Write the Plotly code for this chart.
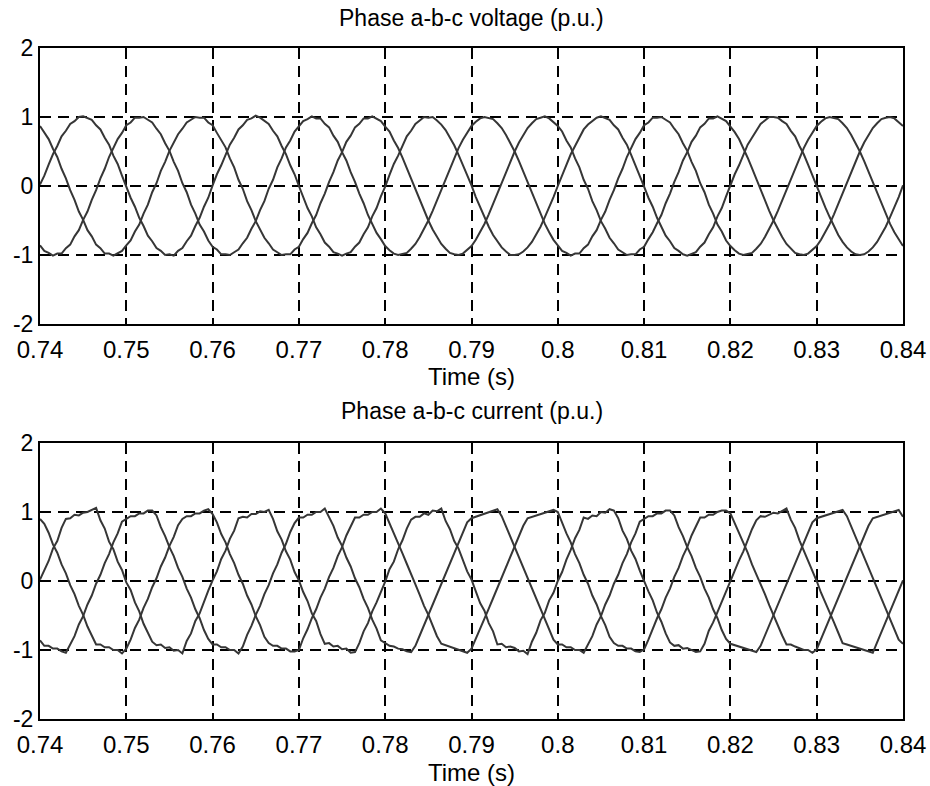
import plotly.graph_objects as go

# ---------------- data ----------------
time_s = [
    0.7400, 0.7405, 0.7410, 0.7415, 0.7420, 0.7425, 0.7430, 0.7435, 0.7440, 0.7445,
    0.7450, 0.7455, 0.7460, 0.7465, 0.7470, 0.7475, 0.7480, 0.7485, 0.7490, 0.7495,
    0.7500, 0.7505, 0.7510, 0.7515, 0.7520, 0.7525, 0.7530, 0.7535, 0.7540, 0.7545,
    0.7550, 0.7555, 0.7560, 0.7565, 0.7570, 0.7575, 0.7580, 0.7585, 0.7590, 0.7595,
    0.7600, 0.7605, 0.7610, 0.7615, 0.7620, 0.7625, 0.7630, 0.7635, 0.7640, 0.7645,
    0.7650, 0.7655, 0.7660, 0.7665, 0.7670, 0.7675, 0.7680, 0.7685, 0.7690, 0.7695,
    0.7700, 0.7705, 0.7710, 0.7715, 0.7720, 0.7725, 0.7730, 0.7735, 0.7740, 0.7745,
    0.7750, 0.7755, 0.7760, 0.7765, 0.7770, 0.7775, 0.7780, 0.7785, 0.7790, 0.7795,
    0.7800, 0.7805, 0.7810, 0.7815, 0.7820, 0.7825, 0.7830, 0.7835, 0.7840, 0.7845,
    0.7850, 0.7855, 0.7860, 0.7865, 0.7870, 0.7875, 0.7880, 0.7885, 0.7890, 0.7895,
    0.7900, 0.7905, 0.7910, 0.7915, 0.7920, 0.7925, 0.7930, 0.7935, 0.7940, 0.7945,
    0.7950, 0.7955, 0.7960, 0.7965, 0.7970, 0.7975, 0.7980, 0.7985, 0.7990, 0.7995,
    0.8000, 0.8005, 0.8010, 0.8015, 0.8020, 0.8025, 0.8030, 0.8035, 0.8040, 0.8045,
    0.8050, 0.8055, 0.8060, 0.8065, 0.8070, 0.8075, 0.8080, 0.8085, 0.8090, 0.8095,
    0.8100, 0.8105, 0.8110, 0.8115, 0.8120, 0.8125, 0.8130, 0.8135, 0.8140, 0.8145,
    0.8150, 0.8155, 0.8160, 0.8165, 0.8170, 0.8175, 0.8180, 0.8185, 0.8190, 0.8195,
    0.8200, 0.8205, 0.8210, 0.8215, 0.8220, 0.8225, 0.8230, 0.8235, 0.8240, 0.8245,
    0.8250, 0.8255, 0.8260, 0.8265, 0.8270, 0.8275, 0.8280, 0.8285, 0.8290, 0.8295,
    0.8300, 0.8305, 0.8310, 0.8315, 0.8320, 0.8325, 0.8330, 0.8335, 0.8340, 0.8345,
    0.8350, 0.8355, 0.8360, 0.8365, 0.8370, 0.8375, 0.8380, 0.8385, 0.8390, 0.8395,
    0.8400,
]

voltage_a = [
    0.02, 0.15, 0.31, 0.46, 0.58, 0.72, 0.80, 0.90, 0.94, 1.00, 1.01, 0.98, 0.96, 0.88, 0.82, 0.70, 0.60, 0.44, 0.32, 0.15,
    -0.01, -0.17, -0.30, -0.46, -0.58, -0.72, -0.80, -0.90, -0.94, -1.00, -0.99, -1.01, -0.94, -0.90, -0.80, -0.72, -0.58, -0.46, -0.30, -0.17,
    0.01, 0.17, 0.30, 0.45, 0.60, 0.70, 0.82, 0.88, 0.96, 0.98, 1.02, 0.99, 0.94, 0.90, 0.80, 0.72, 0.58, 0.46, 0.30, 0.17,
    0.00, -0.15, -0.32, -0.44, -0.60, -0.70, -0.82, -0.88, -0.96, -0.98, -1.01, -0.98, -0.96, -0.88, -0.82, -0.70, -0.60, -0.44, -0.32, -0.15,
    -0.01, 0.16, 0.32, 0.44, 0.59, 0.72, 0.80, 0.90, 0.95, 1.00, 0.99, 1.00, 0.95, 0.89, 0.81, 0.71, 0.59, 0.45, 0.31, 0.16,
    0.01, -0.16, -0.31, -0.45, -0.59, -0.71, -0.81, -0.89, -0.95, -1.00, -1.00, -0.99, -0.95, -0.89, -0.81, -0.71, -0.59, -0.45, -0.31, -0.16,
    0.00, 0.15, 0.31, 0.46, 0.58, 0.71, 0.82, 0.89, 0.94, 0.99, 1.01, 0.98, 0.96, 0.88, 0.82, 0.70, 0.60, 0.45, 0.30, 0.16,
    -0.01, -0.17, -0.30, -0.46, -0.58, -0.72, -0.80, -0.90, -0.94, -0.99, -1.01, -0.98, -0.96, -0.88, -0.82, -0.70, -0.60, -0.44, -0.32, -0.15,
    0.01, 0.17, 0.30, 0.45, 0.60, 0.70, 0.81, 0.90, 0.95, 1.00, 1.00, 0.99, 0.94, 0.90, 0.80, 0.72, 0.58, 0.46, 0.31, 0.15,
    0.00, -0.16, -0.31, -0.45, -0.59, -0.71, -0.81, -0.89, -0.95, -0.99, -1.00, -0.99, -0.95, -0.89, -0.81, -0.71, -0.59, -0.45, -0.31, -0.16,
    0.01,
]

voltage_b = [
    0.87, 0.78, 0.68, 0.54, 0.42, 0.25, 0.11, -0.06, -0.20, -0.37, -0.49, -0.64, -0.73, -0.85, -0.90, -0.98, -0.98, -1.01, -0.97, -0.94,
    -0.86, -0.79, -0.66, -0.56, -0.40, -0.27, -0.09, 0.04, 0.22, 0.35, 0.51, 0.62, 0.75, 0.83, 0.92, 0.96, 1.00, 0.99, 0.99, 0.92,
    0.88, 0.77, 0.67, 0.56, 0.40, 0.27, 0.09, -0.04, -0.22, -0.35, -0.51, -0.62, -0.75, -0.83, -0.92, -0.96, -1.00, -0.99, -0.99, -0.92,
    -0.88, -0.77, -0.68, -0.54, -0.42, -0.25, -0.11, 0.06, 0.20, 0.37, 0.49, 0.64, 0.73, 0.85, 0.90, 0.98, 0.98, 1.01, 0.97, 0.94,
    0.86, 0.79, 0.66, 0.55, 0.41, 0.26, 0.10, -0.05, -0.21, -0.36, -0.50, -0.63, -0.74, -0.84, -0.91, -0.97, -0.99, -1.00, -0.98, -0.93,
    -0.87, -0.78, -0.67, -0.55, -0.41, -0.26, -0.10, 0.05, 0.21, 0.36, 0.50, 0.63, 0.74, 0.84, 0.91, 0.97, 0.99, 1.01, 0.98, 0.93,
    0.87, 0.79, 0.66, 0.56, 0.40, 0.27, 0.09, -0.04, -0.22, -0.35, -0.51, -0.62, -0.75, -0.83, -0.92, -0.96, -1.00, -0.99, -0.99, -0.92,
    -0.88, -0.77, -0.67, -0.54, -0.42, -0.25, -0.11, 0.06, 0.20, 0.37, 0.49, 0.64, 0.73, 0.85, 0.90, 0.98, 0.98, 1.01, 0.97, 0.94,
    0.86, 0.78, 0.68, 0.55, 0.41, 0.26, 0.10, -0.05, -0.21, -0.36, -0.50, -0.63, -0.74, -0.84, -0.91, -0.97, -0.99, -1.00, -0.98, -0.93,
    -0.87, -0.78, -0.67, -0.55, -0.41, -0.26, -0.10, 0.05, 0.21, 0.36, 0.50, 0.63, 0.74, 0.84, 0.91, 0.97, 0.99, 1.00, 0.98, 0.93,
    0.87,
]

voltage_c = [
    -0.86, -0.94, -0.97, -1.01, -0.98, -0.98, -0.90, -0.85, -0.73, -0.64, -0.49, -0.37, -0.20, -0.06, 0.11, 0.25, 0.42, 0.54, 0.68, 0.77,
    0.88, 0.92, 0.99, 0.99, 1.00, 0.96, 0.92, 0.83, 0.75, 0.62, 0.51, 0.35, 0.22, 0.04, -0.09, -0.27, -0.40, -0.56, -0.66, -0.79,
    -0.88, -0.92, -0.99, -0.99, -1.00, -0.96, -0.92, -0.83, -0.75, -0.62, -0.51, -0.35, -0.22, -0.04, 0.09, 0.27, 0.40, 0.56, 0.66, 0.79,
    0.86, 0.94, 0.97, 1.01, 0.98, 0.98, 0.90, 0.85, 0.73, 0.64, 0.49, 0.37, 0.20, 0.06, -0.11, -0.25, -0.42, -0.54, -0.68, -0.77,
    -0.87, -0.93, -0.98, -1.00, -0.99, -0.97, -0.91, -0.84, -0.74, -0.63, -0.50, -0.36, -0.21, -0.05, 0.10, 0.26, 0.41, 0.55, 0.67, 0.78,
    0.87, 0.93, 0.98, 1.00, 0.99, 0.97, 0.91, 0.84, 0.74, 0.63, 0.50, 0.36, 0.21, 0.05, -0.10, -0.26, -0.41, -0.55, -0.67, -0.78,
    -0.86, -0.94, -0.97, -1.01, -0.98, -0.98, -0.90, -0.85, -0.73, -0.64, -0.49, -0.37, -0.20, -0.06, 0.11, 0.25, 0.42, 0.54, 0.68, 0.77,
    0.88, 0.92, 0.99, 0.99, 1.00, 0.96, 0.92, 0.83, 0.75, 0.62, 0.51, 0.35, 0.22, 0.04, -0.09, -0.27, -0.40, -0.56, -0.66, -0.79,
    -0.87, -0.93, -0.98, -1.00, -0.99, -0.97, -0.91, -0.84, -0.74, -0.63, -0.50, -0.36, -0.21, -0.05, 0.10, 0.26, 0.41, 0.55, 0.67, 0.78,
    0.87, 0.93, 0.98, 1.00, 0.99, 0.97, 0.91, 0.84, 0.74, 0.63, 0.50, 0.36, 0.21, 0.05, -0.10, -0.26, -0.41, -0.55, -0.67, -0.78,
    -0.87,
]

current_a = [
    0.02, 0.16, 0.29, 0.47, 0.58, 0.77, 0.90, 0.91, 0.96, 0.95, 0.99, 1.00, 1.03, 1.06, 0.88, 0.76, 0.57, 0.46, 0.28, 0.16,
    -0.02, -0.13, -0.31, -0.44, -0.62, -0.74, -0.88, -0.93, -0.92, -0.97, -0.96, -1.01, -1.00, -1.05, -0.87, -0.76, -0.58, -0.47, -0.29, -0.14,
    0.01, 0.14, 0.32, 0.44, 0.61, 0.73, 0.91, 0.93, 0.92, 0.97, 0.97, 1.01, 1.00, 1.03, 0.90, 0.72, 0.60, 0.43, 0.31, 0.13,
    0.01, -0.16, -0.29, -0.47, -0.58, -0.77, -0.91, -0.90, -0.95, -0.94, -0.99, -0.98, -1.04, -1.03, -0.90, -0.73, -0.61, -0.44, -0.31, -0.16,
    -0.01, 0.17, 0.28, 0.46, 0.59, 0.76, 0.89, 0.93, 0.93, 0.98, 0.96, 1.02, 1.01, 1.05, 0.87, 0.75, 0.58, 0.47, 0.29, 0.14,
    0.02, -0.14, -0.32, -0.43, -0.61, -0.73, -0.92, -0.91, -0.96, -0.95, -0.97, -1.02, -1.01, -1.06, -0.88, -0.75, -0.57, -0.46, -0.28, -0.17,
    0.00, 0.13, 0.31, 0.45, 0.62, 0.74, 0.92, 0.90, 0.95, 0.94, 1.00, 0.99, 1.04, 1.02, 0.91, 0.73, 0.61, 0.44, 0.32, 0.15,
    -0.01, -0.15, -0.28, -0.46, -0.59, -0.76, -0.89, -0.94, -0.93, -0.98, -0.97, -1.00, -1.03, -1.02, -0.91, -0.72, -0.60, -0.45, -0.30, -0.13,
    0.01, 0.16, 0.30, 0.43, 0.60, 0.75, 0.88, 0.94, 0.93, 0.96, 0.99, 0.98, 1.02, 1.05, 0.89, 0.77, 0.59, 0.44, 0.31, 0.14,
    0.00, -0.17, -0.31, -0.44, -0.60, -0.75, -0.90, -0.92, -0.94, -0.96, -0.99, -1.01, -1.02, -1.04, -0.89, -0.74, -0.59, -0.46, -0.30, -0.15,
    0.01,
]

current_b = [
    0.90, 0.83, 0.70, 0.53, 0.41, 0.24, 0.11, -0.06, -0.19, -0.36, -0.49, -0.66, -0.79, -0.92, -0.92, -0.96, -0.96, -1.00, -1.00, -1.05,
    -0.98, -0.85, -0.68, -0.56, -0.39, -0.26, -0.09, 0.04, 0.21, 0.34, 0.51, 0.64, 0.81, 0.90, 0.94, 0.94, 0.98, 0.98, 1.02, 1.04,
    0.97, 0.85, 0.68, 0.56, 0.39, 0.26, 0.09, -0.04, -0.21, -0.34, -0.51, -0.64, -0.81, -0.90, -0.94, -0.94, -0.98, -0.98, -1.02, -1.02,
    -1.00, -0.83, -0.70, -0.54, -0.41, -0.24, -0.11, 0.06, 0.19, 0.36, 0.49, 0.66, 0.79, 0.92, 0.92, 0.96, 0.96, 1.00, 1.00, 1.05,
    0.98, 0.84, 0.70, 0.54, 0.40, 0.25, 0.11, -0.05, -0.20, -0.36, -0.49, -0.65, -0.80, -0.91, -0.93, -0.96, -0.97, -0.99, -1.01, -1.04,
    -0.98, -0.84, -0.69, -0.55, -0.40, -0.25, -0.10, 0.05, 0.20, 0.35, 0.50, 0.65, 0.80, 0.91, 0.93, 0.95, 0.97, 0.99, 1.01, 1.03,
    1.00, 0.83, 0.69, 0.56, 0.39, 0.26, 0.09, -0.04, -0.21, -0.34, -0.51, -0.64, -0.81, -0.90, -0.94, -0.94, -0.98, -0.98, -1.02, -1.03,
    -0.99, -0.85, -0.68, -0.54, -0.41, -0.24, -0.11, 0.06, 0.19, 0.36, 0.49, 0.66, 0.79, 0.92, 0.92, 0.96, 0.96, 1.00, 1.02, 1.02,
    0.98, 0.84, 0.70, 0.54, 0.41, 0.24, 0.10, -0.06, -0.19, -0.35, -0.50, -0.66, -0.79, -0.92, -0.92, -0.95, -0.97, -1.00, -1.00, -1.04,
    -0.99, -0.84, -0.69, -0.55, -0.40, -0.25, -0.10, 0.05, 0.20, 0.35, 0.50, 0.65, 0.80, 0.91, 0.93, 0.95, 0.97, 0.99, 1.01, 1.03,
    0.93,
]

current_c = [
    -0.86, -0.94, -0.94, -0.98, -0.98, -1.02, -1.04, -0.93, -0.80, -0.63, -0.51, -0.34, -0.21, -0.04, 0.09, 0.26, 0.39, 0.56, 0.69, 0.86,
    0.90, 0.94, 0.94, 0.98, 0.98, 1.02, 1.02, 0.95, 0.78, 0.65, 0.49, 0.36, 0.19, 0.06, -0.11, -0.24, -0.41, -0.54, -0.71, -0.84,
    -0.92, -0.92, -0.96, -0.96, -1.00, -1.00, -1.05, -0.95, -0.78, -0.65, -0.49, -0.36, -0.19, -0.06, 0.11, 0.24, 0.41, 0.54, 0.71, 0.84,
    0.92, 0.92, 0.96, 0.96, 1.00, 1.00, 1.05, 0.93, 0.80, 0.63, 0.51, 0.34, 0.21, 0.04, -0.09, -0.26, -0.39, -0.56, -0.69, -0.86,
    -0.90, -0.94, -0.95, -0.98, -0.99, -1.02, -1.03, -0.94, -0.79, -0.64, -0.50, -0.35, -0.20, -0.05, 0.10, 0.25, 0.40, 0.55, 0.70, 0.85,
    0.91, 0.93, 0.95, 0.97, 0.99, 1.01, 1.04, 0.94, 0.79, 0.64, 0.50, 0.35, 0.20, 0.05, -0.10, -0.25, -0.40, -0.55, -0.70, -0.85,
    -0.92, -0.92, -0.96, -0.96, -1.00, -1.00, -1.04, -0.93, -0.80, -0.63, -0.51, -0.34, -0.21, -0.04, 0.09, 0.26, 0.39, 0.56, 0.69, 0.86,
    0.90, 0.94, 0.94, 0.98, 0.98, 1.02, 1.02, 0.95, 0.78, 0.65, 0.49, 0.36, 0.19, 0.06, -0.11, -0.24, -0.41, -0.54, -0.71, -0.84,
    -0.91, -0.93, -0.95, -0.97, -0.99, -1.01, -1.03, -0.94, -0.79, -0.64, -0.50, -0.35, -0.20, -0.05, 0.10, 0.25, 0.40, 0.55, 0.70, 0.85,
    0.91, 0.93, 0.95, 0.97, 0.99, 1.01, 1.03, 0.94, 0.79, 0.64, 0.50, 0.35, 0.20, 0.05, -0.10, -0.25, -0.40, -0.55, -0.70, -0.85,
    -0.91,
]

x_tick_values = [0.74, 0.75, 0.76, 0.77, 0.78, 0.79, 0.80, 0.81, 0.82, 0.83, 0.84]
x_tick_labels = ["0.74", "0.75", "0.76", "0.77", "0.78", "0.79", "0.8", "0.81", "0.82", "0.83", "0.84"]
y_tick_values = [-2, -1, 0, 1, 2]
y_tick_labels = ["-2", "-1", "0", "1", "2"]

voltage_title = "Phase a-b-c voltage (p.u.)"
current_title = "Phase a-b-c current (p.u.)"
x_title = "Time (s)"

# ---------------- figure ----------------
W, H = 930, 786
FONT = "Liberation Sans, Arial, Helvetica, sans-serif"
LINE_COLOR = "#363636"
TICK_SIZE = 24
YTICK_SIZE = 23
TITLE_SIZE = 23
XTITLE_SIZE = 24

fig = go.Figure()
for series in (voltage_a, voltage_b, voltage_c):
    fig.add_trace(go.Scatter(x=time_s, y=series, mode="lines", xaxis="x", yaxis="y",
                             line=dict(color=LINE_COLOR, width=2), showlegend=False,
                             hoverinfo="skip"))
for series in (current_a, current_b, current_c):
    fig.add_trace(go.Scatter(x=time_s, y=series, mode="lines", xaxis="x2", yaxis="y2",
                             line=dict(color=LINE_COLOR, width=2), showlegend=False,
                             hoverinfo="skip"))

x_dom = [40 / W, 903 / W]
top_dom = [1 - 324 / H, 1 - 48 / H]
bot_dom = [1 - 719 / H, 1 - 443 / H]

common = dict(showline=True, mirror=True, linecolor="black", linewidth=2,
              showgrid=True, gridcolor="black", gridwidth=1.7, griddash="11px,7px",
              zeroline=False, ticks="inside", ticklen=4, tickcolor="black",
              automargin=False)

def xaxis_style(anchor):
    return dict(domain=x_dom, anchor=anchor, range=[0.74, 0.84],
                tickmode="array", tickvals=x_tick_values, ticktext=x_tick_labels,
                ticklabelstandoff=3,
                tickfont=dict(family=FONT, size=TICK_SIZE, color="black"),
                **common)

def yaxis_style(anchor, dom):
    return dict(domain=dom, anchor=anchor, range=[-2, 2],
                tickmode="array", tickvals=y_tick_values, ticktext=y_tick_labels,
                tickfont=dict(family=FONT, size=YTICK_SIZE, color="black"),
                **common)

xc = (x_dom[0] + x_dom[1]) / 2

def label(text, y_px, size):
    return dict(text=text, x=xc, y=1 - y_px / H, xref="paper", yref="paper",
                xanchor="center", yanchor="middle", showarrow=False,
                font=dict(family=FONT, size=size, color="black"))

fig.update_layout(
    width=W, height=H,
    margin=dict(l=0, r=0, t=0, b=0),
    paper_bgcolor="white", plot_bgcolor="white",
    xaxis=xaxis_style("y"), yaxis=yaxis_style("x", top_dom),
    xaxis2=xaxis_style("y2"), yaxis2=yaxis_style("x2", bot_dom),
    annotations=[
        label(voltage_title, 18, TITLE_SIZE),
        label(x_title, 376, XTITLE_SIZE),
        label(current_title, 411, TITLE_SIZE),
        label(x_title, 772, XTITLE_SIZE),
    ],
)

# remove the page's default 8px body margin so the figure sits at the window origin
fig.write_html("out.html",
               config={"displayModeBar": False},
               post_script="document.body.style.margin='0px';document.body.style.overflow='hidden';")
